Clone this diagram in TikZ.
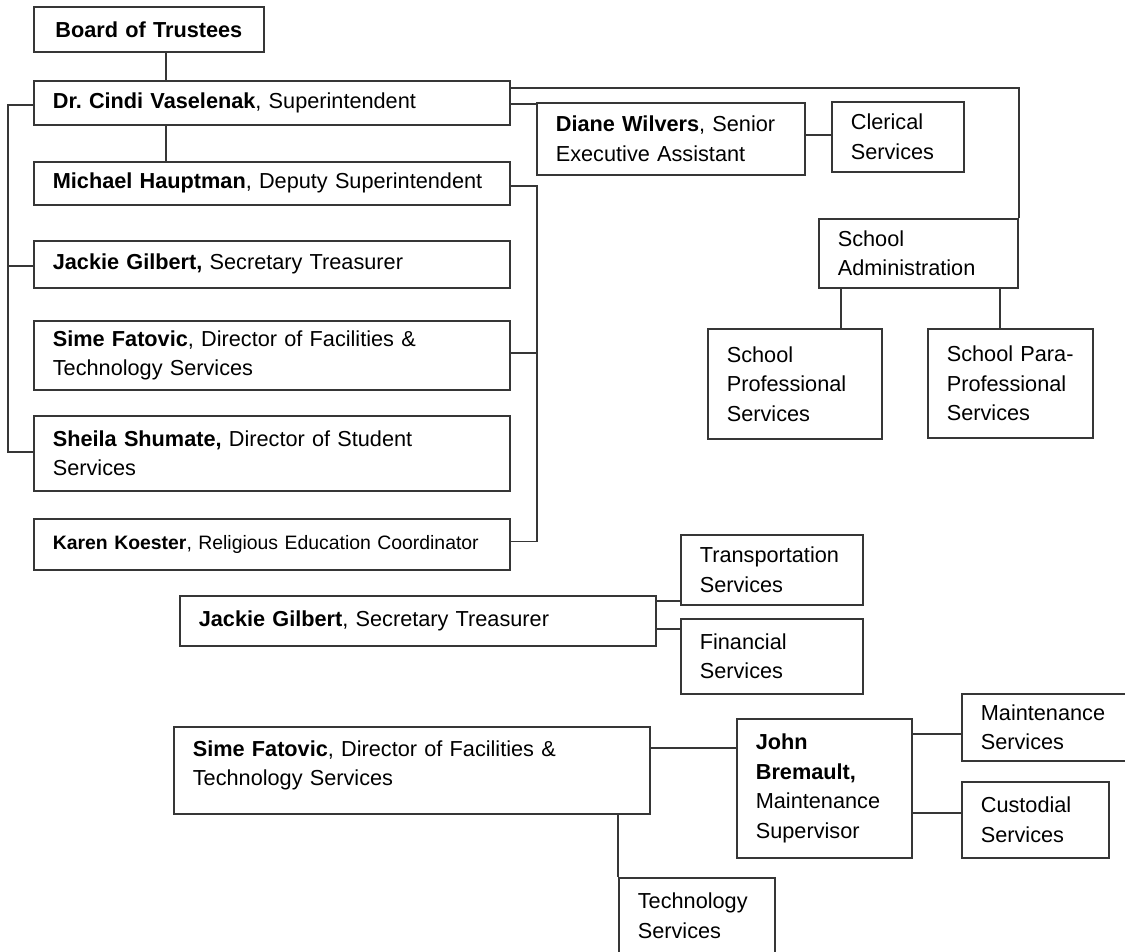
\documentclass[tikz,border=0pt]{standalone}
\usepackage{fontspec}
\setmainfont{Liberation Sans}
\frenchspacing
\definecolor{linec}{HTML}{363636}
\newcommand{\fsmain}{\fontsize{21.7}{29.5}\selectfont}
\newcommand{\fssmall}{\fontsize{19.4}{26}\selectfont}
\tikzset{
  orgbox/.style n args={3}{draw=linec, line width=1.7pt, rectangle, anchor=north west,
    inner xsep=19pt, inner ysep=0pt, minimum width=#1pt, minimum height=#2pt,
    text width=#3pt, align=left, font=\fsmain},
  conn/.style={draw=linec, line width=1.7pt},
}
\begin{document}
\begin{tikzpicture}[x=1pt, y=-1pt]
\useasboundingbox (0,0) rectangle (1125,951);
% top chart
\node[orgbox={230}{45}{192}, align=center, font=\fsmain\bfseries] (board) at (33,6) {Board of Trustees};
\node[orgbox={476}{44}{438}] (supt) at (33,80) {\textbf{Dr. Cindi Vaselenak}, Superintendent};
\node[orgbox={476}{43}{438}] (haupt) at (33,161) {\textbf{Michael Hauptman}, Deputy Superintendent};
\node[orgbox={476}{47}{438}] (jackie) at (33,240) {\textbf{Jackie Gilbert,} Secretary Treasurer};
\node[orgbox={476}{69}{438}] (sime) at (33,320) {\textbf{Sime Fatovic}, Director of Facilities \&\\Technology Services};
\node[orgbox={476}{75}{438}] (sheila) at (33,415) {\textbf{Sheila Shumate,} Director of Student\\Services};
\node[orgbox={476}{51}{438}, font=\fssmall] (karen) at (33,518) {\textbf{Karen Koester}, Religious Education Coordinator};
\node[orgbox={268}{72}{230}] (diane) at (536,102) {\textbf{Diane Wilvers}, Senior\\Executive Assistant};
\node[orgbox={132}{70}{94}] (clerical) at (831,101) {Clerical\\Services};
\node[orgbox={199}{69}{161}] (sadmin) at (818,218) {School\\Administration};
\node[orgbox={174}{110}{136}] (sprof) at (707,328) {School\\Professional\\Services};
\node[orgbox={165}{109}{127}] (spara) at (927,328) {School~Para-\\Professional\\Services};
% Jackie Gilbert chart
\node[orgbox={476}{50}{438}] (jackie2) at (179,595) {\textbf{Jackie Gilbert}, Secretary Treasurer};
\node[orgbox={182}{70}{144}] (transport) at (680,534) {Transportation\\Services};
\node[orgbox={182}{75}{144}] (financial) at (680,618) {Financial\\Services};
% Sime Fatovic chart
\node[orgbox={476}{87}{438}] (sime2) at (173,726) {\textbf{Sime Fatovic}, Director of Facilities \&\\Technology Services\\[-15pt]\mbox{}};
\node[orgbox={175}{139}{137}] (john) at (736,718) {\textbf{John}\\\textbf{Bremault,}\\Maintenance\\Supervisor};
\node[orgbox={185}{67}{147}] (maint) at (961,693) {Maintenance\\Services};
\node[orgbox={147}{76}{109}] (custodial) at (961,781) {Custodial\\Services};
\node[orgbox={156}{76}{118}] (tech) at (618,877) {Technology\\Services};

% connectors, top chart
\draw[conn] ([xshift=133pt]board.south west) -- ([xshift=133pt]supt.north west);
\draw[conn] ([xshift=133pt]supt.south west) -- ([xshift=133pt]haupt.north west);
\draw[conn] ([yshift=-25pt]supt.north west) -- ++(-25pt,0) |- ([yshift=1.5pt]sheila.west);
\draw[conn] ([yshift=-26pt]jackie.north west) -- ++(-25pt,0);
\draw[conn] ([yshift=-2.5pt]haupt.east) -- ++(26pt,0) |- ([yshift=3pt]karen.east);
\draw[conn] ([yshift=2.5pt]sime.east) -- ++(26pt,0);
\draw[conn] ([yshift=-8pt]supt.north east) -| (sadmin.north east);
\draw[conn] ([yshift=-24pt]supt.north east) -- ([yshift=-2pt]diane.north west);
\draw[conn] ([yshift=2pt]clerical.west -| diane.east) -- ([yshift=2pt]clerical.west);
\draw[conn] ([xshift=23pt]sadmin.south west) -- ([xshift=23pt]sadmin.south west |- sprof.north);
\draw[conn] ([xshift=-19pt]sadmin.south east) -- ([xshift=-19pt]sadmin.south east |- spara.north);
% connectors, Jackie Gilbert chart
\draw[conn] ([yshift=-6pt]jackie2.north east) -- ([yshift=-6pt]jackie2.north east -| transport.west);
\draw[conn] ([yshift=-34pt]jackie2.north east) -- ([yshift=-34pt]jackie2.north east -| financial.west);
% connectors, Sime Fatovic chart
\draw[conn] ([yshift=-22pt]sime2.north east) -- ([yshift=-22pt]sime2.north east -| john.west);
\draw[conn] ([yshift=-16pt]john.north east) -- ([yshift=-16pt]john.north east -| maint.west);
\draw[conn] ([yshift=-95pt]john.north east) -- ([yshift=-95pt]john.north east -| custodial.west);
\draw[conn] (tech.north west |- sime2.south) -- (tech.north west);
\end{tikzpicture}
\end{document}
